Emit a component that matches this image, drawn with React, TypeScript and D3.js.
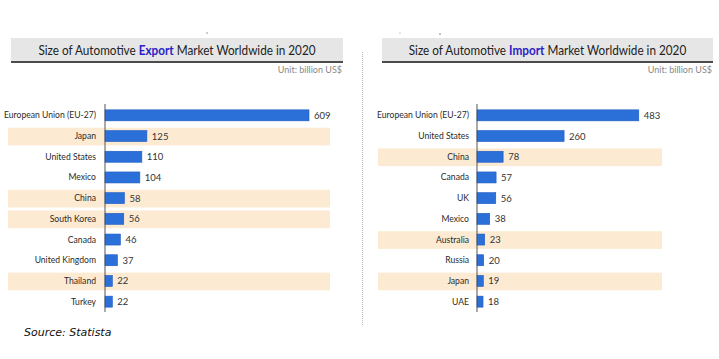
import React from "react";
import * as d3 from "d3";

const exportCountries = ["European Union (EU-27)", "Japan", "United States", "Mexico", "China", "South Korea", "Canada", "United Kingdom", "Thailand", "Turkey"];
const exportValues = [609, 125, 110, 104, 58, 56, 46, 37, 22, 22];
const exportHighlight = ["Japan", "China", "South Korea", "Thailand"];

const importCountries = ["European Union (EU-27)", "United States", "China", "Canada", "UK", "Mexico", "Australia", "Russia", "Japan", "UAE"];
const importValues = [483, 260, 78, 57, 56, 38, 23, 20, 19, 18];
const importHighlight = ["China", "Australia", "Japan"];

const FONT = "Lato, 'Noto Sans', sans-serif";

type PanelProps = {
  x0: number; x1: number; titleCx: number; axisX: number; labelX: number; bandX0: number; bandX1: number;
  titlePre: string; titleKey: string; titlePost: string;
  cats: string[]; vals: number[]; hl: string[];
};

function Panel(p: PanelProps) {
  const y = d3.scaleBand<string>().domain(p.cats).range([105, 312]).paddingInner(0.0).paddingOuter(0);
  const x = d3.scaleLinear().domain([0, 609]).range([p.axisX, p.axisX + 204]);
  const bw = y.bandwidth();
  return (
    <g>
      <rect x={p.x0} y={38} width={p.x1 - p.x0} height={23} fill="#e6e6e6" />
      <line x1={p.x0} x2={p.x1} y1={62} y2={62} stroke="#111" strokeWidth={1.6} />
      <g transform={`translate(${p.titleCx},55) scale(0.87,1)`}>
        <text x={0} y={0} textAnchor="middle" fontFamily={FONT} fontSize={13.5} fill="#222">
          {p.titlePre}
          <tspan fill="#2a22c8" fontWeight="bold">{p.titleKey}</tspan>
          {p.titlePost}
        </text>
      </g>
      <text x={p.x1 - 1} y={73} textAnchor="end" fontFamily={FONT} fontSize={9} fill="#888">Unit: billion US$</text>
      {p.cats.map((c) =>
        p.hl.includes(c) ? (
          <rect key={"b" + c} x={p.bandX0} y={(y(c) as number) + 2} width={p.bandX1 - p.bandX0} height={bw - 3} fill="#fcebd2" />
        ) : null
      )}
      {p.cats.map((c, i) => {
        const yc = (y(c) as number) + bw / 2;
        return (
          <g key={c}>
            <rect x={p.axisX} y={yc - 5.5} width={x(p.vals[i]) - p.axisX} height={11} fill="#2b6fd8" stroke="#1e5cc0" strokeWidth={0.6} />
            <text x={p.labelX} y={yc + 3} textAnchor="end" fontFamily={FONT} fontSize={8.6} fill="#2a2a2a">{c}</text>
            <text x={x(p.vals[i]) + 5} y={yc + 3.5} fontFamily={FONT} fontSize={9.5} fill="#333">{p.vals[i]}</text>
          </g>
        );
      })}
      <line x1={p.axisX} x2={p.axisX} y1={104} y2={312} stroke="#555" strokeWidth={1} />
    </g>
  );
}

export default function App() {
  return (
    <svg width={719} height={359} style={{ position: "absolute", left: 0, top: 0, background: "#fff" }}>
      <rect width={719} height={359} fill="#fff" />
      <circle cx={207} cy={33} r={0.7} fill="#777" />
      <circle cx={400} cy={33} r={0.6} fill="#999" />
      <circle cx={440} cy={34} r={0.7} fill="#555" />
      <Panel x0={11} x1={343} titleCx={177} axisX={105} labelX={96} bandX0={8} bandX1={330}
        titlePre="Size of Automotive " titleKey="Export" titlePost=" Market Worldwide in 2020"
        cats={exportCountries} vals={exportValues} hl={exportHighlight} />
      <line x1={362.5} x2={362.5} y1={52} y2={325} stroke="#bbb" strokeWidth={1} strokeDasharray="1,1" />
      <Panel x0={382} x1={713} titleCx={547.5} axisX={477} labelX={469} bandX0={378} bandX1={662}
        titlePre="Size of Automotive " titleKey="Import" titlePost=" Market Worldwide in 2020"
        cats={importCountries} vals={importValues} hl={importHighlight} />
      <text x={24} y={336} fontFamily="'DejaVu Sans', Verdana, sans-serif" fontStyle="italic" fontSize={11} fill="#111">Source:  Statista</text>
    </svg>
  );
}
